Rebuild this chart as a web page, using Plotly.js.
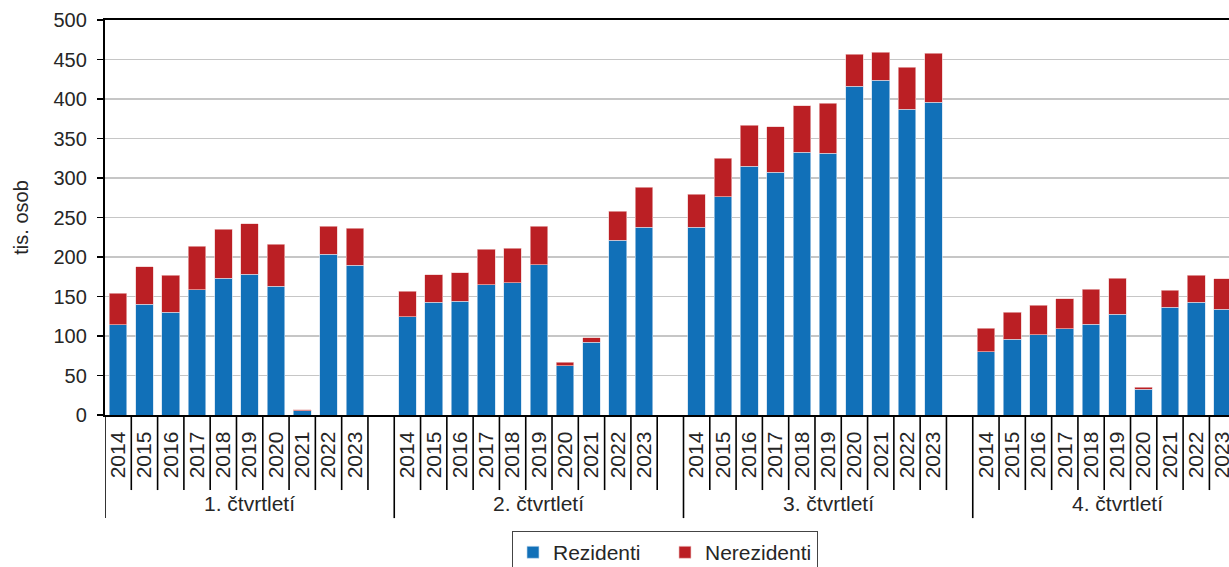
<!DOCTYPE html>
<html>
<head>
<meta charset="utf-8">
<script src="https://cdn.plot.ly/plotly-3.0.1.min.js"></script>
<style>
html, body { margin: 0; padding: 0; overflow: hidden; background: #fff; }
#chart { width: 1290px; height: 567px; }
</style>
</head>
<body>
<div id="chart"></div>
<script>
const quarters = ["1. čtvrtletí", "2. čtvrtletí", "3. čtvrtletí", "4. čtvrtletí"];
const years = ["2014", "2015", "2016", "2017", "2018", "2019", "2020", "2021", "2022", "2023"];

// Rezidenti (tis. osob) per quarter, years 2014–2023
const rezQ1 = [114, 140.5, 130, 158.6, 173, 178, 163, 5.5, 203.4, 189.5];
const rezQ2 = [124.5, 142.6, 144.3, 164.6, 167.5, 189.9, 62.4, 92, 221.5, 237.6];
const rezQ3 = [237.6, 276, 314.8, 307.2, 332.5, 331.2, 416, 423.6, 387.3, 395.8];
const rezQ4 = [80, 96.2, 101.7, 108.9, 114.8, 127.4, 32.9, 136.7, 142.6, 133.8];

// Nerezidenti (tis. osob)
const nerQ1 = [40, 47.3, 47, 54.9, 62, 63.8, 53, 1.3, 35.4, 46.8];
const nerQ2 = [32, 35, 35.9, 45.1, 43.5, 49.3, 4.3, 5.9, 36.3, 50.6];
const nerQ3 = [41.7, 49.3, 51.9, 57.4, 59.1, 63.3, 40.5, 35.4, 52.7, 62];
const nerQ4 = [30, 33.8, 37.1, 38.4, 44.2, 45.6, 2.1, 21.1, 34.2, 38.4];

const yTicks = [0, 50, 100, 150, 200, 250, 300, 350, 400, 450, 500];

const rez = [rezQ1, rezQ2, rezQ3, rezQ4];
const ner = [nerQ1, nerQ2, nerQ3, nerQ4];
const slots = years.length + 1; // 10 years + one empty slot per quarter

const xs = [], rezY = [], nerY = [], tickvals = [], ticktext = [];
quarters.forEach((q, qi) => {
  years.forEach((yr, yi) => {
    const pos = qi * slots + yi;
    xs.push(pos);
    rezY.push(rez[qi][yi]);
    nerY.push(ner[qi][yi]);
    tickvals.push(pos);
    ticktext.push(yr);
  });
});

const FONT = "Liberation Sans, Arial, sans-serif";
const TXT = "#262626";

const traces = [
  { type: "bar", name: "Rezidenti", x: xs, y: rezY, width: 0.67,
    marker: { color: "#1170b8", line: { color: "rgba(200,220,240,0.8)", width: 0.8 } } },
  { type: "bar", name: "Nerezidenti", x: xs, y: nerY, width: 0.67,
    marker: { color: "#bb1f24", line: { color: "rgba(240,200,200,0.8)", width: 0.8 } } }
];

// axis decoration lines below the category axis
const shapes = [];
const yearLineBottom = -0.19;
const groupLineBottom = -0.261;
quarters.forEach((q, qi) => {
  for (let k = 1; k <= years.length; k++) {
    shapes.push({ type: "line", xref: "x", yref: "paper",
      x0: qi * slots + k - 0.5, x1: qi * slots + k - 0.5, y0: 0, y1: yearLineBottom,
      line: { color: "#000", width: 1.6 } });
  }
});
for (let qi = 0; qi <= quarters.length; qi++) {
  shapes.push({ type: "line", xref: "x", yref: "paper",
    x0: qi * slots - 0.5, x1: qi * slots - 0.5, y0: 0, y1: groupLineBottom,
    line: { color: "#000", width: 1.6 } });
}

const annotations = quarters.map((q, qi) => ({
  text: q, xref: "x", yref: "paper", x: qi * slots + (slots - 1) / 2, y: -0.225,
  xanchor: "center", yanchor: "middle", showarrow: false,
  font: { family: FONT, size: 21, color: TXT }
}));

const layout = {
  width: 1290, height: 567,
  margin: { l: 105, r: 28, t: 20, b: 152, autoexpand: false },
  paper_bgcolor: "#fff", plot_bgcolor: "#fff",
  barmode: "stack", bargap: 0,
  showlegend: true,
  legend: { orientation: "h", x: 0.4840, xanchor: "center", y: -0.294, yanchor: "top",
    bordercolor: "#444", borderwidth: 1, font: { family: FONT, size: 21, color: TXT },
    traceorder: "normal", entrywidth: 107, entrywidthmode: "pixels" },
  xaxis: {
    range: [-0.5, quarters.length * slots - 0.5], automargin: false,
    tickmode: "array", tickvals: tickvals, ticktext: ticktext, tickangle: -90,
    ticks: "", showgrid: false, zeroline: false, ticklabelstandoff: 6,
    showline: true, linecolor: "#000", linewidth: 2.2, mirror: true,
    tickfont: { family: FONT, size: 21, color: TXT }
  },
  yaxis: {
    range: [0, 500], tickmode: "array", tickvals: yTicks, automargin: false,
    ticks: "outside", ticklen: 6, tickwidth: 1.6, tickcolor: "#000", ticklabelstandoff: 6,
    showline: true, linecolor: "#000", linewidth: 2.2, mirror: true,
    showgrid: true, gridcolor: "#c6c6c6", gridwidth: 1.5, zeroline: false,
    tickfont: { family: FONT, size: 20, color: TXT },
    title: { text: "tis. osob", font: { family: FONT, size: 20, color: TXT }, standoff: 20 }
  },
  shapes: shapes,
  annotations: annotations,
  font: { family: FONT, color: TXT }
};

Plotly.newPlot("chart", traces, layout, { displayModeBar: false, staticPlot: true });
</script>
</body>
</html>
